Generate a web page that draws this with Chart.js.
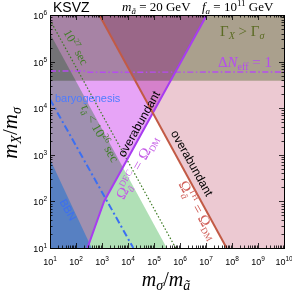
<!DOCTYPE html>
<html>
<head>
<meta charset="utf-8">
<script src="https://cdn.jsdelivr.net/npm/chart.js@4.4.1/dist/chart.umd.min.js"></script>
<style>
  html, body { margin: 0; padding: 0; background: #fff; }
  #wrap { width: 292px; height: 292px; }
</style>
</head>
<body>
<div id="wrap"><canvas id="c" width="292" height="292"></canvas></div>
<script>
// axis ranges: x = m_sigma/m_a, y = m_X/m_sigma
const xMin = 1e1, xMax = 1e10;
const yMin = 1e1, yMax = 1e6;
const xExps = [1, 2, 3, 4, 5, 6, 7, 8, 9, 10];
const yExps = [1, 2, 3, 4, 5, 6];

// boundaries
const thX = [7.9e2, 6.2e7];          // Omega_TH = Omega_DM
const thY = [1e6, 1e1];
const decX = [2.75e2, 1.2e3, 1.07e7]; // Omega_DEC = Omega_DM
const decY = [1e1, 1e2, 1e6];
const tau26X = [1e1, 3.1e5];         // tau_a < 10^26 sec
const tau26Y = [4e5, 1e1];
const tau27X = [1e1, 6.8e5];         // 10^27 sec
const tau27Y = [7.8e5, 1e1];
const baryoX = [1e1, 1.6e4];
const baryoY = [1.55e4, 1e1];
const bbnX = [1e1, 4e2];
const bbnY = [8e2, 1e1];
const gammaX = [1e1, 1e10];          // Gamma_X > Gamma_sigma
const gammaY = [3.9e4, 3.9e4];
const neffX = [1e1, 2e2, 3e2, 1e10]; // Delta N_eff = 1
const neffY = [6.3e4, 6.3e4, 5.9e4, 6e4];

const SERIF = '"Liberation Serif", "DejaVu Serif", serif';
const SANS = '"Liberation Sans", Arial, sans-serif';

const pts = (xs, ys) => xs.map((x, i) => ({ x: x, y: ys[i] }));

function area(data, fill, color, blend, order) {
  return { data: data, fill: fill, backgroundColor: color, borderColor: 'transparent',
    borderWidth: 0, pointRadius: 0, blend: blend, order: order };
}
function curve(data, color, width, dash) {
  return { data: data, fill: false, borderColor: color, borderWidth: width,
    borderDash: dash || [], pointRadius: 0, order: 1 };
}

const datasets = [
  area(pts(thX, thY).concat([{ x: xMax, y: yMin }]), 'end', '#ecc9d2', 'multiply', 10),
  area([{ x: xMin, y: yMin }].concat(pts(decX, decY)), 'end', '#e7a4f7', 'multiply', 10),
  area(pts(tau26X, tau26Y), 'start', '#b0e0b6', 'multiply', 10),
  area(pts(gammaX, gammaY), 'end', '#b8cbab', 'multiply', 10),
  area(pts(bbnX, bbnY), 'start', 'rgba(69,124,199,0.8)', 'source-over', 5),
  curve(pts(thX, thY), '#c25a45', 2),
  curve(pts(decX, decY), '#a83cf0', 2),
  curve(pts(tau27X, tau27Y), '#3c7a22', 1.2, [1.5, 2]),
  curve(pts(baryoX, baryoY), '#3b6ff2', 2, [7, 3, 2, 3]),
  curve(pts(neffX, neffY), '#b54cf0', 1.4, [6, 2.5, 1.5, 2.5])
];

// draw rich text runs (sub/superscripts via dy)
function rich(ctx, runs, x, y, opt) {
  opt = opt || {};
  ctx.save();
  ctx.translate(x, y);
  ctx.rotate(opt.angle || 0);
  ctx.fillStyle = opt.color || '#000';
  ctx.textBaseline = 'alphabetic';
  let w = 0;
  runs.forEach(r => {
    ctx.font = (r.i ? 'italic ' : '') + r.s + 'px ' + (r.sans ? SANS : SERIF);
    r.w = ctx.measureText(r.t).width;
    if (!r.keep) w += r.w;
  });
  let cx = opt.align === 'left' ? 0 : opt.align === 'right' ? -w : -w / 2;
  const base = opt.mid ? runs[0].s * 0.33 : 0;
  runs.forEach(r => {
    ctx.font = (r.i ? 'italic ' : '') + r.s + 'px ' + (r.sans ? SANS : SERIF);
    ctx.fillText(r.t, cx, (r.dy || 0) + base);
    if (!r.keep) cx += r.w;
  });
  ctx.restore();
}

function setMode(chart, idx) {
  const ds = chart.data.datasets[idx];
  chart.ctx.globalCompositeOperation = (ds && ds.blend) || 'source-over';
}

const blendPlugin = {
  id: 'blend',
  beforeDatasetsDraw(chart) {
    chart.$seq = chart.getSortedVisibleDatasetMetas().map(m => m.index).reverse();
    setMode(chart, chart.$seq[0]);
  },
  beforeDatasetDraw(chart) {
    chart.ctx.globalCompositeOperation = 'source-over';
  },
  afterDatasetDraw(chart, args) {
    const seq = chart.$seq;
    setMode(chart, seq[seq.indexOf(args.index) + 1]);
  },
  afterDatasetsDraw(chart) {
    const ctx = chart.ctx;
    ctx.globalCompositeOperation = 'source-over';
    const xs = chart.scales.x, ys = chart.scales.y;
    const P = (lx, ly) => [xs.getPixelForValue(Math.pow(10, lx)), ys.getPixelForValue(Math.pow(10, ly))];
    const dx = xs.getPixelForValue(100) - xs.getPixelForValue(10);
    const dy = ys.getPixelForValue(10) - ys.getPixelForValue(100);
    const down = Math.atan2(dy, dx), up = -down;
    let p;

    p = P(7.54, 5.55);
    rich(ctx, [{ t: 'Γ', s: 15 }, { t: 'X', s: 10, i: 1, dy: 3 }, { t: ' > Γ', s: 15 }, { t: 'σ', s: 10, i: 1, dy: 3 }],
      p[0], p[1], { align: 'left', color: '#5b6b23' });
    p = P(7.46, 4.88);
    rich(ctx, [{ t: 'Δ', s: 15 }, { t: 'N', s: 15, i: 1 }, { t: 'eff', s: 10, dy: 3 }, { t: ' = 1', s: 15 }],
      p[0], p[1], { align: 'left', color: '#b54cf0' });
    p = P(2.0, 5.31);
    rich(ctx, [{ t: '10', s: 12 }, { t: '27', s: 8, dy: -5 }, { t: ' sec', s: 12 }],
      p[0], p[1], { angle: down, mid: true, color: '#3f7d25' });
    p = P(1.19, 4.13);
    rich(ctx, [{ t: 'baryogenesis', s: 11, sans: true }], p[0], p[1], { align: 'left', color: '#4d7cff' });
    p = P(2.92, 3.47);
    rich(ctx, [{ t: 'τ', s: 13, i: 1 }, { t: 'ã', s: 9, i: 1, dy: 3 }, { t: ' < 10', s: 13 }, { t: '26', s: 9, dy: -5 }, { t: ' sec', s: 13 }],
      p[0], p[1], { angle: down, mid: true, color: '#3f7d25' });
    p = P(1.69, 1.82);
    rich(ctx, [{ t: 'BBN', s: 11, sans: true }], p[0], p[1], { angle: down, mid: true, color: '#3d6ef0' });
    p = P(4.42, 3.66);
    rich(ctx, [{ t: 'overabundant', s: 12, sans: true }], p[0], p[1], { angle: up, mid: true });
    p = P(4.33, 2.74);
    rich(ctx, [{ t: 'Ω', s: 15 }, { t: 'ã', s: 10, i: 1, dy: 4, keep: 1 }, { t: 'DEC', s: 9, dy: -6 }, { t: ' = Ω', s: 15 }, { t: 'DM', s: 9, dy: 3 }],
      p[0], p[1], { angle: up, mid: true, color: '#c45ae6' });
    p = P(6.46, 2.82);
    rich(ctx, [{ t: 'overabundant', s: 12, sans: true }], p[0], p[1], { angle: down, mid: true });
    p = P(6.71, 1.82);
    rich(ctx, [{ t: 'Ω', s: 15 }, { t: 'ã', s: 10, i: 1, dy: 4, keep: 1 }, { t: 'TH', s: 9, dy: -6 }, { t: ' = Ω', s: 15 }, { t: 'DM', s: 9, dy: 3 }],
      p[0], p[1], { angle: down, mid: true, color: '#d0605a' });
  }
};

const framePlugin = {
  id: 'frame',
  afterDraw(chart) {
    const ctx = chart.ctx, a = chart.chartArea;
    const xs = chart.scales.x, ys = chart.scales.y;
    ctx.save();
    ctx.strokeStyle = '#000';
    ctx.lineWidth = 0.8;
    ctx.beginPath();
    for (let e = 1; e < 10; e++) {
      for (let k = 1; k < 10; k++) {
        const v = k * Math.pow(10, e);
        if (v > xMax) break;
        const px = Math.round(xs.getPixelForValue(v)) + 0.5;
        const len = k === 1 ? 5 : 2.5;
        ctx.moveTo(px, a.bottom); ctx.lineTo(px, a.bottom - len);
        ctx.moveTo(px, a.top); ctx.lineTo(px, a.top + len);
      }
    }
    for (let e = 1; e < 6; e++) {
      for (let k = 1; k < 10; k++) {
        const v = k * Math.pow(10, e);
        if (v > yMax) break;
        const py = Math.round(ys.getPixelForValue(v)) + 0.5;
        const len = k === 1 ? 5 : 2.5;
        ctx.moveTo(a.left, py); ctx.lineTo(a.left + len, py);
        ctx.moveTo(a.right, py); ctx.lineTo(a.right - len, py);
      }
    }
    ctx.stroke();
    ctx.lineWidth = 1;
    ctx.strokeRect(Math.round(a.left) + 0.5, Math.round(a.top) + 0.5,
      Math.round(a.right - a.left), Math.round(a.bottom - a.top));
    ctx.restore();

    xExps.forEach(e => {
      rich(ctx, [{ t: '10', s: 9, sans: true }, { t: String(e), s: 6.5, sans: true, dy: -4 }],
        xs.getPixelForValue(Math.pow(10, e)), a.bottom + 17);
    });
    yExps.forEach(e => {
      rich(ctx, [{ t: '10', s: 9, sans: true }, { t: String(e), s: 6.5, sans: true, dy: -4 }],
        a.left - 3, ys.getPixelForValue(Math.pow(10, e)) + 4, { align: 'right' });
    });

    rich(ctx, [{ t: 'm', s: 20, i: 1 }, { t: 'σ', s: 14, i: 1, dy: 4 }, { t: '/', s: 20 }, { t: 'm', s: 20, i: 1 }, { t: 'ã', s: 14, i: 1, dy: 4 }],
      166, 286);
    rich(ctx, [{ t: 'm', s: 21, i: 1 }, { t: 'X', s: 14, i: 1, dy: 4 }, { t: '/', s: 21 }, { t: 'm', s: 21, i: 1 }, { t: 'σ', s: 14, i: 1, dy: 4 }],
      17, 133, { angle: -Math.PI / 2 });

    rich(ctx, [{ t: 'KSVZ', s: 14, sans: true }], 53, 12, { align: 'left' });
    rich(ctx, [{ t: 'm', s: 13, i: 1 }, { t: 'ã', s: 9, i: 1, dy: 3 }, { t: ' = 20 GeV', s: 13 }], 122, 11, { align: 'left' });
    rich(ctx, [{ t: 'f', s: 13, i: 1 }, { t: 'a', s: 9, i: 1, dy: 3 }, { t: ' = 10', s: 13 }, { t: '11', s: 9, dy: -5 }, { t: ' GeV', s: 13 }],
      202, 11, { align: 'left' });
  }
};

new Chart(document.getElementById('c'), {
  type: 'line',
  data: { datasets: datasets },
  options: {
    responsive: false,
    devicePixelRatio: 1,
    animation: false,
    layout: { padding: { left: 50, right: 8, top: 15, bottom: 44 } },
    plugins: { legend: { display: false }, tooltip: { enabled: false } },
    scales: {
      x: { type: 'logarithmic', min: xMin, max: xMax, display: false },
      y: { type: 'logarithmic', min: yMin, max: yMax, display: false }
    }
  },
  plugins: [blendPlugin, framePlugin]
});
</script>
</body>
</html>
